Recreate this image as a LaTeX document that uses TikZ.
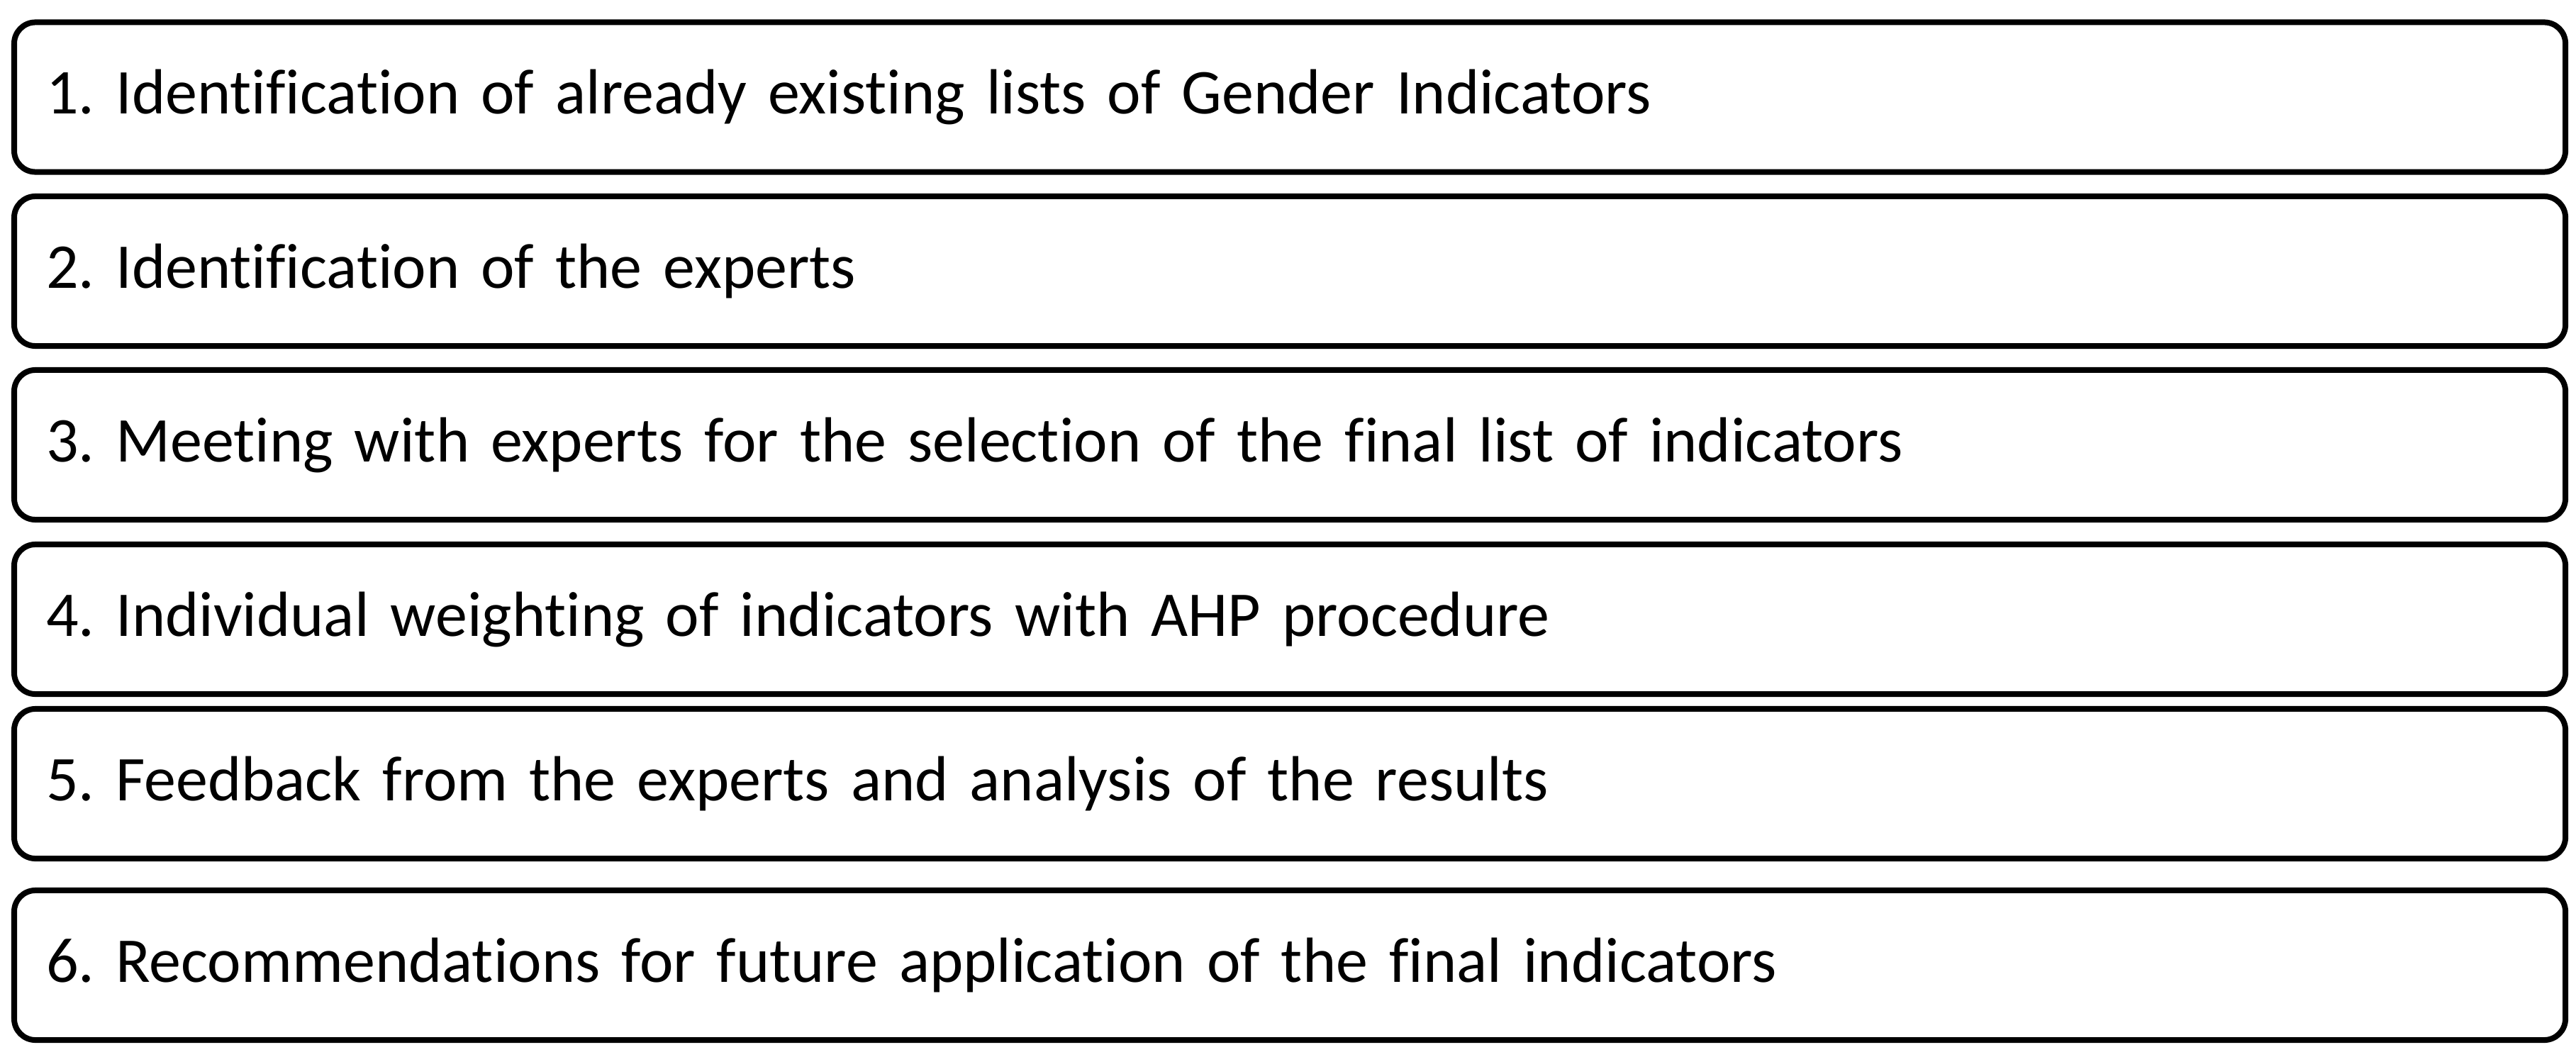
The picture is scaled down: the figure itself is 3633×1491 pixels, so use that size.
\documentclass[tikz,border=0pt]{standalone}
\usepackage{fontspec}
\setmainfont[Ligatures={NoCommon}]{Carlito}
\frenchspacing
\begin{document}
\begin{tikzpicture}[x=0.01cm,y=-0.01cm,
  stepbox/.style={draw=black, line width=0.08cm, rounded corners=0.3cm,
    minimum width=35.96cm, minimum height=2.11cm, inner xsep=0.45cm,
    text width=35.06cm, align=left, anchor=west, outer sep=0pt,
    font=\fontsize{25.6pt}{30pt}\selectfont}]
\useasboundingbox[fill=white] (0,0) rectangle (3633,1491);
\node[stepbox] (s1) at (20,137) {1. Identification of already existing lists of Gender Indicators};
\node[stepbox] (s2) at (20,382.5) {2. Identification of the experts};
\node[stepbox] (s3) at (20,627.5) {3. Meeting with experts for the selection of the final list of indicators};
\node[stepbox] (s4) at (20,873.5) {4. Individual weighting of indicators with AHP procedure};
\node[stepbox] (s5) at (20,1105.5) {5. Feedback from the experts and analysis of the results};
\node[stepbox] (s6) at (20,1361.5) {6. Recommendations for future application of the final indicators};
\end{tikzpicture}
\end{document}
